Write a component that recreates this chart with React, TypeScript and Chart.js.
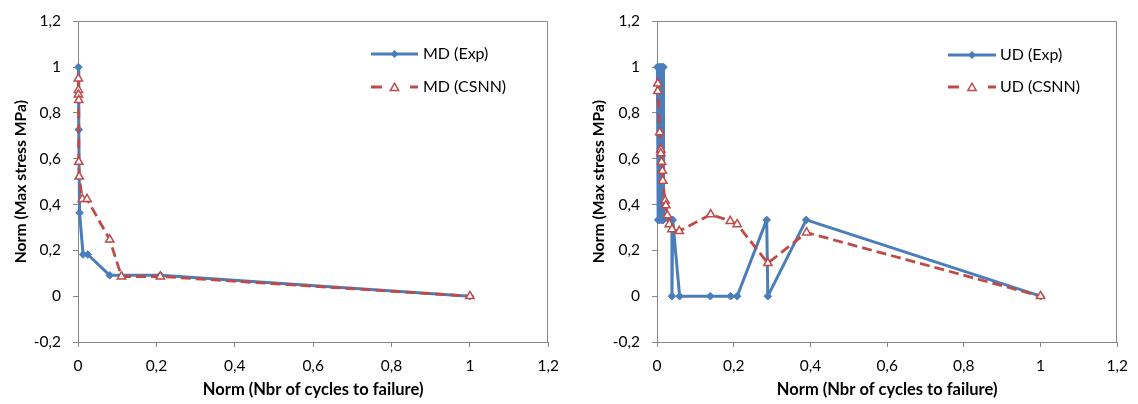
import React, { useEffect, useRef } from 'react';
import { Chart, registerables } from 'chart.js';

Chart.register(...registerables);

// ---------- DATA ----------
const mdExpX = [0.001, 0.002, 0.004, 0.013, 0.025, 0.081, 0.21, 1];
const mdExpY = [1, 0.727, 0.364, 0.182, 0.182, 0.091, 0.091, 0];

const mdCsnnX = [0.001, 0.001, 0.001, 0.002, 0.002, 0.003, 0.011, 0.023, 0.081, 0.111, 0.21, 1];
const mdCsnnY = [0.95, 0.9, 0.88, 0.856, 0.586, 0.522, 0.424, 0.424, 0.247, 0.086, 0.086, 0];

const udExpX = [0.001, 0.003, 0.005, 0.007, 0.009, 0.011, 0.013, 0.015, 0.017, 0.017, 0.039, 0.039, 0.041, 0.059, 0.139, 0.192, 0.209, 0.286, 0.289, 0.389, 1];
const udExpY = [1, 0.333, 1, 0.333, 1, 0.333, 1, 0.333, 1, 0.333, 0.333, 0, 0.333, 0, 0, 0, 0, 0.333, 0, 0.333, 0];

const udCsnnX = [0.002, 0.002, 0.007, 0.01, 0.01, 0.012, 0.014, 0.015, 0.021, 0.023, 0.027, 0.032, 0.039, 0.058, 0.14, 0.191, 0.209, 0.289, 0.39, 1];
const udCsnnY = [0.928, 0.895, 0.715, 0.64, 0.623, 0.586, 0.547, 0.504, 0.417, 0.396, 0.353, 0.314, 0.292, 0.284, 0.357, 0.328, 0.314, 0.144, 0.278, 0];

const xTickLabels = ['0', '0,2', '0,4', '0,6', '0,8', '1', '1,2'];
const yTickLabels = ['-0,2', '0', '0,2', '0,4', '0,6', '0,8', '1', '1,2'];

const xAxisTitle = 'Norm (Nbr of cycles to failure)';
const yAxisTitle = 'Norm (Max stress MPa)';

const mdLabels = ['MD (Exp)', 'MD (CSNN)'];
const udLabels = ['UD (Exp)', 'UD (CSNN)'];

// ---------- STYLE ----------
const BLUE = '#4A7EBB';
const RED = '#BE4B48';
const AXIS = '#868686';
const FONT = 'Lato';

Chart.defaults.font.family = FONT;
Chart.defaults.color = '#000';

const framePlugin = {
  id: 'frameLines',
  beforeDatasetsDraw(chart: any) {
    const { ctx, chartArea } = chart;
    const { left, right, top, bottom } = chartArea;
    ctx.save();
    ctx.strokeStyle = AXIS;
    ctx.lineWidth = 1;
    ctx.beginPath();
    const t = Math.round(top) + 0.5;
    const r = Math.round(right) - 0.5;
    ctx.moveTo(left, t);
    ctx.lineTo(r, t);
    ctx.lineTo(r, bottom);
    ctx.stroke();
    ctx.restore();
  },
};

function drawDiamond(ctx: CanvasRenderingContext2D, x: number, y: number, r: number) {
  ctx.beginPath();
  ctx.moveTo(x - r, y);
  ctx.lineTo(x, y - r);
  ctx.lineTo(x + r, y);
  ctx.lineTo(x, y + r);
  ctx.closePath();
}

function drawTriangle(ctx: CanvasRenderingContext2D, x: number, y: number, r: number) {
  ctx.beginPath();
  ctx.moveTo(x, y - r);
  ctx.lineTo(x + 0.866 * r, y + 0.5 * r);
  ctx.lineTo(x - 0.866 * r, y + 0.5 * r);
  ctx.closePath();
}

const legendPlugin = {
  id: 'insideLegend',
  afterDraw(chart: any, _args: any, opts: any) {
    const { ctx } = chart;
    const { x0, x1, textX, rows, labels } = opts;
    const mid = (x0 + x1) / 2;
    ctx.save();
    ctx.strokeStyle = BLUE;
    ctx.lineWidth = 3;
    ctx.beginPath();
    ctx.moveTo(x0, rows[0]);
    ctx.lineTo(x1, rows[0]);
    ctx.stroke();
    ctx.fillStyle = BLUE;
    drawDiamond(ctx, mid, rows[0], 4);
    ctx.fill();
    ctx.strokeStyle = RED;
    ctx.lineWidth = 2.8;
    ctx.beginPath();
    ctx.moveTo(x0, rows[1]);
    ctx.lineTo(x0 + 11, rows[1]);
    ctx.moveTo(x1 - 8, rows[1]);
    ctx.lineTo(x1, rows[1]);
    ctx.stroke();
    ctx.fillStyle = '#fff';
    ctx.lineWidth = 1.5;
    drawTriangle(ctx, mid, rows[1] + 1, 4.8);
    ctx.fill();
    ctx.stroke();
    ctx.fillStyle = '#000';
    ctx.font = `16px ${FONT}`;
    ctx.textBaseline = 'middle';
    ctx.textAlign = 'left';
    ctx.fillText(labels[0], textX, rows[0]);
    ctx.fillText(labels[1], textX, rows[1]);
    ctx.restore();
  },
};

type PanelProps = {
  left: number;
  width: number;
  expX: number[];
  expY: number[];
  csX: number[];
  csY: number[];
  labels: string[];
  padLeft: number;
  padRight: number;
  yWidth: number;
  legend: { x0: number; x1: number; textX: number; rows: number[] };
};

function Panel(p: PanelProps) {
  const ref = useRef<HTMLCanvasElement | null>(null);
  useEffect(() => {
    if (!ref.current) return;
    const chart = new Chart(ref.current, {
      type: 'scatter',
      data: {
        datasets: [
          {
            label: p.labels[0],
            data: p.expX.map((x, i) => ({ x, y: p.expY[i] })),
            showLine: true,
            borderColor: BLUE,
            backgroundColor: BLUE,
            borderWidth: 3,
            borderJoinStyle: 'round',
            pointStyle: 'rectRot',
            pointRadius: 3.8,
            pointBorderWidth: 1,
            pointBackgroundColor: BLUE,
            pointBorderColor: BLUE,
            clip: false,
            order: 1,
          } as any,
          {
            label: p.labels[1],
            data: p.csX.map((x, i) => ({ x, y: p.csY[i] })),
            showLine: true,
            borderColor: RED,
            backgroundColor: '#fff',
            borderWidth: 2.8,
            borderDash: [10, 5],
            pointStyle: 'triangle',
            pointRadius: 4.8,
            pointBorderWidth: 1.5,
            pointBackgroundColor: '#fff',
            pointBorderColor: RED,
            clip: false,
            order: 0,
          } as any,
        ],
      },
      options: {
        responsive: false,
        animation: false,
        devicePixelRatio: 1,
        layout: { padding: { left: p.padLeft, right: p.padRight, top: 17, bottom: 0 } },
        plugins: {
          legend: { display: false },
          tooltip: { enabled: false },
          insideLegend: { ...p.legend, labels: p.labels },
        } as any,
        scales: {
          x: {
            type: 'linear',
            min: 0,
            max: 1.2,
            ticks: {
              stepSize: 0.2,
              autoSkip: false,
              maxRotation: 0,
              padding: 10,
              color: '#000',
              font: { size: 15.5 },
              callback: (_v: any, i: number) => xTickLabels[i],
            },
            grid: { display: true, drawOnChartArea: false, drawTicks: true, tickLength: 5, color: AXIS, lineWidth: 1 },
            border: { display: true, color: AXIS, width: 1 },
            title: { display: true, text: xAxisTitle, color: '#000', font: { size: 16.5, weight: 'bold' }, padding: { top: 4, bottom: 4 } },
            afterFit: (s: any) => { s.height = 62; },
          },
          y: {
            type: 'linear',
            min: -0.2,
            max: 1.2,
            ticks: {
              stepSize: 0.2,
              autoSkip: false,
              padding: 12,
              color: '#000',
              font: { size: 15.5 },
              callback: (_v: any, i: number) => yTickLabels[i],
            },
            grid: { display: true, drawOnChartArea: false, drawTicks: true, tickLength: 5, color: AXIS, lineWidth: 1 },
            border: { display: true, color: AXIS, width: 1 },
            title: { display: true, text: yAxisTitle, color: '#000', font: { size: 15.7, weight: 'bold' }, padding: { top: 4, bottom: 4 } },
            afterFit: (s: any) => { s.width = p.yWidth; },
          },
        } as any,
      },
      plugins: [framePlugin, legendPlugin],
    });
    return () => chart.destroy();
  }, []);
  return (
    <canvas
      ref={ref}
      width={p.width}
      height={404}
      style={{ position: 'absolute', left: p.left, top: 0, width: p.width, height: 404 }}
    />
  );
}

export default function App() {
  return (
    <div style={{ position: 'absolute', left: 0, top: 0, width: 1138, height: 404, background: '#fff', overflow: 'hidden' }}>
      <Panel
        left={0}
        width={569}
        expX={mdExpX}
        expY={mdExpY}
        csX={mdCsnnX}
        csY={mdCsnnY}
        labels={mdLabels}
        padLeft={8}
        padRight={19}
        yWidth={70}
        legend={{ x0: 371, x1: 418, textX: 423, rows: [54, 87] }}
      />
      <Panel
        left={569}
        width={569}
        expX={udExpX}
        expY={udExpY}
        csX={udCsnnX}
        csY={udCsnnY}
        labels={udLabels}
        padLeft={17}
        padRight={15}
        yWidth={71}
        legend={{ x0: 379, x1: 427, textX: 431, rows: [55, 87] }}
      />
    </div>
  );
}
